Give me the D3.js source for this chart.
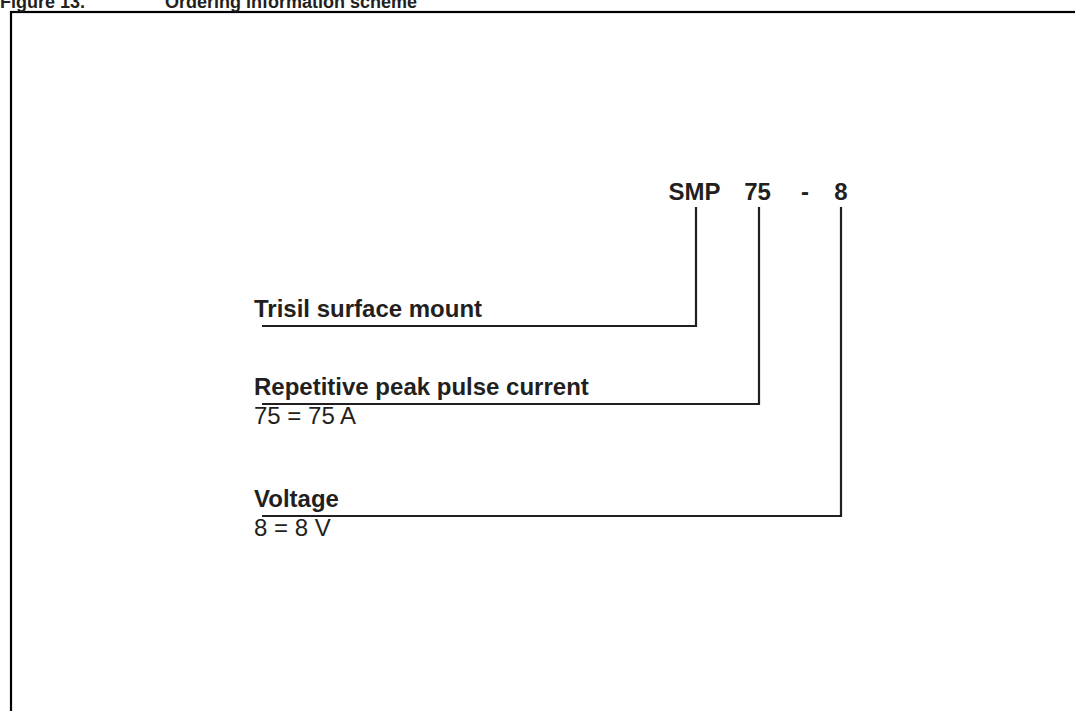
<!DOCTYPE html>
<html>
<head>
<meta charset="utf-8">
<script src="https://cdn.jsdelivr.net/npm/d3@7"></script>
<style>
	html, body { margin: 0; padding: 0; background: #fff; overflow: hidden; }
	svg { display: block; font-family: "Liberation Sans", Arial, Helvetica, sans-serif; }
</style>
</head>
<body>
<div id="chart"></div>
<script>
// ordering code and what each part means
var titleNum = "Figure 13.";
var titleText = "Ordering information scheme";
var codeParts = ["SMP", "75", "-", "8"];
var fieldLabels = ["Trisil surface mount", "Repetitive peak pulse current", "Voltage"];
var fieldValues = ["", "75 = 75 A", "8 = 8 V"];
var fieldPart = [0, 1, 3]; // index into codeParts

var width = 1075, height = 711;
var ink = "#231f20";
var fontSize = "24px";

var svg = d3.select("#chart").append("svg")
	.attr("width", width)
	.attr("height", height);

// frame (runs off the page right and bottom)
svg.append("rect")
	.attr("x", 11).attr("y", 12)
	.attr("width", width + 50).attr("height", height + 50)
	.attr("fill", "none")
	.attr("stroke", "#000")
	.attr("stroke-width", 2.2);

// title, top half is cut off like in the page crop
var title = svg.append("g").attr("class", "title")
	.style("font-weight", "bold").style("font-size", "18px").attr("fill", ink);
title.append("text").attr("x", 0).attr("y", 8).text(titleNum);
title.append("text").attr("x", 165).attr("y", 8).text(titleText);

// x of each code part (centre)
var partX = d3.scaleOrdinal()
	.domain(codeParts.map((d, i) => i))
	.range([696, 759, 805, 841]);

var codeY = 200, lineTop = 207, left = 262;

svg.append("g").attr("class", "code")
	.selectAll("text")
	.data(codeParts)
	.enter().append("text")
		.attr("x", (d, i) => partX(i) - (i < 2 ? 1.5 : 0))
		.attr("y", codeY)
		.attr("text-anchor", "middle")
		.style("font-weight", "bold")
		.style("font-size", fontSize)
		.attr("fill", ink)
		.text(d => d);

// row positions: a base gap plus room for the value line
var rowY = [];
fieldLabels.reduce(function(y, d, i){
	rowY.push(y);
	return y + 78 + (fieldValues[i] ? 34 : 0);
}, 326);

var rows = svg.append("g").attr("class", "fields")
	.selectAll("g")
	.data(fieldLabels)
	.enter().append("g");

rows.append("path")
	.attr("fill", "none")
	.attr("stroke", ink)
	.attr("stroke-width", 2.2)
	.attr("d", function(d, i){
		var x = partX(fieldPart[i]);
		return d3.line()([[left, rowY[i]], [x, rowY[i]], [x, lineTop]]);
	});

rows.append("text")
	.attr("x", 254)
	.attr("y", (d, i) => rowY[i] - 9)
	.style("font-weight", "bold")
	.style("font-size", fontSize)
	.attr("fill", ink)
	.text(d => d);

rows.append("text")
	.attr("x", 254)
	.attr("y", (d, i) => rowY[i] + 20)
	.style("font-size", fontSize)
	.attr("fill", ink)
	.text((d, i) => fieldValues[i]);
</script>
</body>
</html>
